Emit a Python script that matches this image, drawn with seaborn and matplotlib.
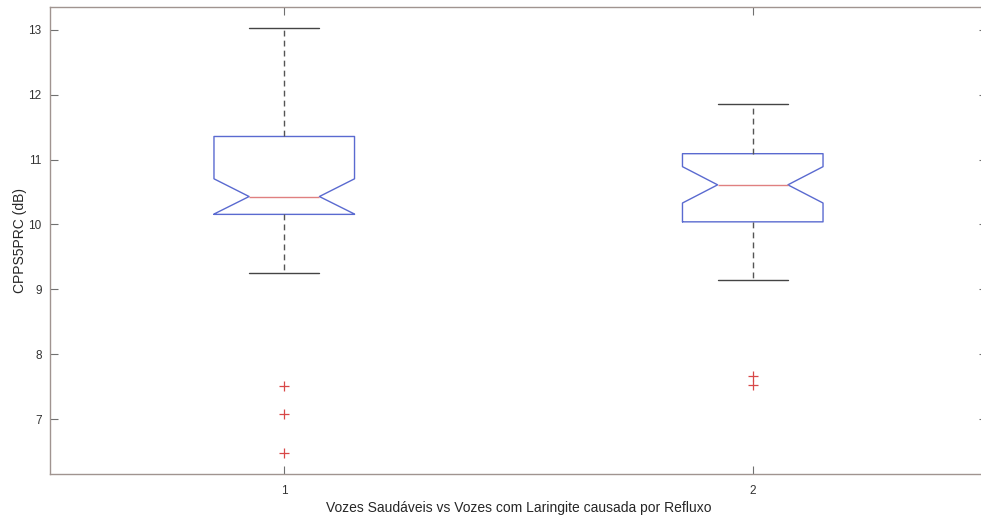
import matplotlib
matplotlib.use("Agg")
import matplotlib.pyplot as plt
import seaborn as sns

# Summary statistics for each group (CPPS5PRC, dB)
groups = ["1", "2"]
lower_whisker = [9.25, 9.15]
first_quartile = [10.155, 10.04]
medians = [10.43, 10.61]
third_quartile = [11.355, 11.09]
upper_whisker = [13.03, 11.855]
notch_low = [10.16, 10.33]
notch_high = [10.703, 10.89]
outliers = [[7.51, 7.08, 6.48], [7.67, 7.52]]

x_label = "Vozes Saudáveis vs Vozes com Laringite causada por Refluxo"
y_label = "CPPS5PRC (dB)"
y_ticks = [7, 8, 9, 10, 11, 12, 13]

sns.set_theme(style="ticks")
plt.rcParams["font.family"] = ["Liberation Sans", "DejaVu Sans"]

stats = []
for i, name in enumerate(groups):
    stats.append(dict(
        label=name,
        whislo=lower_whisker[i], q1=first_quartile[i], med=medians[i],
        q3=third_quartile[i], whishi=upper_whisker[i],
        cilo=notch_low[i], cihi=notch_high[i], fliers=outliers[i],
    ))

fig = plt.figure(figsize=(9.81, 5.20), dpi=100)
ax = fig.add_axes([50 / 981, 46 / 520, 937 / 981, 467 / 520])

spine_col = "#a09490"
ax.bxp(
    stats, positions=[1, 2], widths=0.3, shownotches=True, showfliers=True,
    boxprops=dict(color="#5a6ad0", linewidth=1.0),
    medianprops=dict(color="#e08080", linewidth=1.0),
    whiskerprops=dict(color="#555555", linewidth=1.0, linestyle=(0, (4.2, 3))),
    capprops=dict(color="#444444", linewidth=1.0),
    flierprops=dict(marker="+", markeredgecolor="#d84848", markersize=7,
                    markeredgewidth=0.9, linestyle="none"),
)

ax.set_xlim(0.5, 2.5)
ax.set_ylim(6.155, 13.35)
ax.set_yticks(y_ticks)
ax.set_xticks([1, 2])
ax.set_xticklabels(groups)

for s in ax.spines.values():
    s.set_visible(True)
    s.set_color(spine_col)
    s.set_linewidth(1.0)

ax.tick_params(direction="in", length=5.5, width=0.8, color="#707070",
               labelsize=8.5, labelcolor="#333333",
               top=True, right=True, bottom=True, left=True)
ax.tick_params(axis="x", pad=8)
ax.tick_params(axis="y", pad=6)
ax.grid(False)
ax.set_facecolor("white")
fig.patch.set_facecolor("white")

ax.set_xlabel(x_label, fontsize=10, color="#262626", labelpad=3)
ax.set_ylabel(y_label, fontsize=10, color="#262626", labelpad=1)

fig.savefig("out.png", dpi=100, facecolor="white")
